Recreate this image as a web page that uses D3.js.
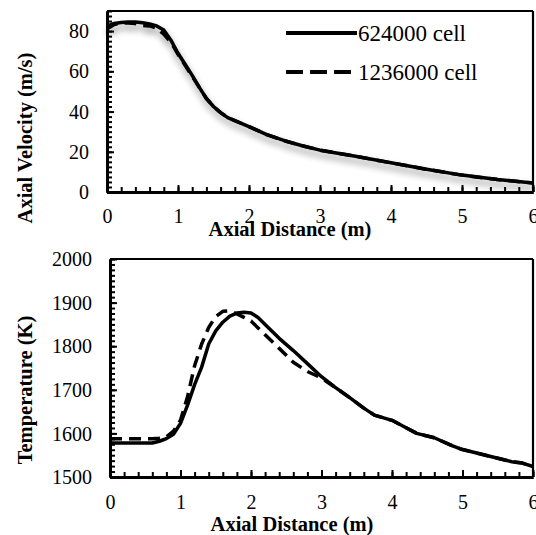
<!DOCTYPE html>
<html><head><meta charset="utf-8">
<script src="https://cdn.jsdelivr.net/npm/d3@7"></script>
<style>
html,body{margin:0;padding:0;background:#fff;}
svg{display:block;}
svg text{font-family:'Liberation Serif','Times New Roman',Tinos,'DejaVu Serif',serif !important;fill:#000;}
</style></head><body>
<svg id="c" width="536" height="535"></svg>
<script>
// ---------- data ----------
const seriesNames = ["624000 cell", "1236000 cell"];
const xTicks = [0, 1, 2, 3, 4, 5, 6];
const velTicks = [0, 20, 40, 60, 80];
const tempTicks = [1500, 1600, 1700, 1800, 1900, 2000];

const velX = [0,0.1,0.2,0.3,0.4,0.5,0.6,0.7,0.8,0.9,1.0,1.1,1.2,1.3,1.4,1.5,1.6,1.7,1.8,2.0,2.25,2.5,2.75,3.0,3.5,4.0,4.5,5.0,5.5,6.0];
const velSolid = [82.5,83.8,84.3,84.5,84.5,84.2,83.6,82.6,80.5,75.5,69,63.5,58,52,46.5,42.5,39.5,37,35.5,32.5,28.5,25.5,23,20.8,17.8,14.5,11.3,8.4,6.2,4.5];
const velDashed = [81,83.3,84,84,83.8,82.8,82.6,81.5,78.5,74.5,68.5,63,57.5,52,46.5,42.5,39.5,37,35.5,32.5,28.5,25.5,23,20.8,17.8,14.5,11.3,8.4,6.2,4.5];

const tempX = [0,0.2,0.4,0.6,0.7,0.8,0.9,1.0,1.1,1.2,1.3,1.4,1.5,1.6,1.7,1.8,1.9,2.0,2.1,2.2,2.4,2.6,2.8,3.0,3.2,3.4,3.6,3.75,4.0,4.2,4.35,4.6,4.85,5.0,5.2,5.5,5.7,5.85,6.0];
const tempSolid = [1578,1578,1578,1578,1582,1588,1598,1623,1665,1712,1752,1805,1835,1855,1869,1876,1878,1876,1866,1850,1818,1790,1760,1730,1705,1682,1658,1642,1630,1613,1600,1590,1572,1563,1555,1543,1535,1532,1524];
const tempDashed = [1588,1588,1588,1588,1589,1592,1605,1630,1684,1755,1805,1843,1868,1880,1881,1874,1866,1858,1842,1826,1795,1763,1742,1727,1705,1682,1658,1642,1630,1613,1600,1590,1572,1563,1555,1543,1535,1532,1524];

// ---------- drawing ----------
const FONT = "'Liberation Serif', 'Times New Roman', Tinos, 'DejaVu Serif', serif";
const svg = d3.select("#c");
const defs = svg.append("defs");
const f = defs.append("filter").attr("id","sh").attr("filterUnits","userSpaceOnUse")
  .attr("x",0).attr("y",0).attr("width",536).attr("height",535);
f.append("feGaussianBlur").attr("in","SourceAlpha").attr("stdDeviation",3.5).attr("result","b");
f.append("feOffset").attr("in","b").attr("dx",1).attr("dy",5).attr("result","o");
f.append("feComponentTransfer").attr("in","o").attr("result","t")
  .append("feFuncA").attr("type","linear").attr("slope",0.4);
const mg = f.append("feMerge");
mg.append("feMergeNode").attr("in","t");
mg.append("feMergeNode").attr("in","SourceGraphic");

function panel(cfg){
  const x = d3.scaleLinear().domain([0,6]).range([cfg.left, cfg.right]);
  const y = d3.scaleLinear().domain(cfg.yDomain).range([cfg.bottom, cfg.top]);
  const g = svg.append("g");

  g.append("line").attr("x1",cfg.left).attr("x2",cfg.right).attr("y1",cfg.top).attr("y2",cfg.top)
    .attr("stroke","#000").attr("stroke-width",2.2);
  g.append("line").attr("x1",cfg.right).attr("x2",cfg.right).attr("y1",cfg.top).attr("y2",cfg.bottom)
    .attr("stroke","#000").attr("stroke-width",2.2);

  const xm = g.append("g").attr("transform",`translate(0,${cfg.bottom})`)
    .call(d3.axisBottom(x).tickValues(d3.range(0,6.001,0.2)).tickSize(-5).tickSizeOuter(0).tickFormat(""));
  const xa = g.append("g").attr("transform",`translate(0,${cfg.bottom})`)
    .call(d3.axisBottom(x).tickValues(xTicks).tickSize(-7).tickSizeOuter(0).tickFormat(d3.format("d")));
  const ym = g.append("g").attr("transform",`translate(${cfg.left},0)`)
    .call(d3.axisLeft(y).tickValues(d3.range(cfg.yDomain[0], cfg.yDomain[1]+0.001, cfg.minor)).tickSize(-5).tickSizeOuter(0).tickFormat(""));
  const ya = g.append("g").attr("transform",`translate(${cfg.left},0)`)
    .call(d3.axisLeft(y).tickValues(cfg.yTicks).tickSize(-7).tickSizeOuter(0).tickFormat(d3.format("d")));

  [xm,xa,ym,ya].forEach(a=>{
    a.attr("font-family",FONT).attr("font-size",20);
    a.selectAll(".domain").attr("stroke","#000").attr("stroke-width",3);
    a.selectAll(".tick line").attr("stroke","#000").attr("stroke-width",2);
  });
  xa.selectAll(".tick text").attr("y", cfg.xLabelBase - cfg.bottom).attr("dy",0)
    .style("font-family",FONT).style("font-size","20px");
  ya.selectAll(".tick text").attr("x", cfg.yLabelRight - cfg.left).attr("dy","0.33em")
    .style("font-family",FONT).style("font-size","20px");

  svg.append("text").attr("x",cfg.xTitleX).attr("y",cfg.xTitleY).attr("text-anchor","middle")
    .style("font-family",FONT).style("font-weight","bold").style("font-size","20.5px").text("Axial Distance (m)");
  svg.append("text").attr("transform",`translate(${cfg.yTitleX},${cfg.yTitleY}) rotate(-90)`)
    .attr("text-anchor","middle").style("font-family",FONT).style("font-weight","bold").style("font-size","20.5px").text(cfg.yTitle);

  return {x,y,g};
}

function drawLines(p, xs, sSolid, sDashed, shadow){
  const line = d3.line().x((d,i)=>p.x(xs[i])).y(d=>p.y(d));
  const lg = svg.append("g");
  if (shadow) lg.attr("filter","url(#sh)");
  lg.append("path").attr("d", line(sDashed)).attr("fill","none").attr("stroke","#000")
    .attr("stroke-width",3.5).attr("stroke-dasharray","12,7").attr("stroke-linejoin","round");
  lg.append("path").attr("d", line(sSolid)).attr("fill","none").attr("stroke","#000")
    .attr("stroke-width",3.5).attr("stroke-linejoin","round");
}

const velPanel = panel({left:107,right:533,top:11,bottom:192,yDomain:[0,90],yTicks:velTicks,minor:2.5,
  xLabelBase:223,yLabelRight:89,xTitleX:290,xTitleY:236,yTitleX:32,yTitleY:138,yTitle:"Axial Velocity (m/s)"});
drawLines(velPanel, velX, velSolid, velDashed, true);

const tempPanel = panel({left:110,right:533,top:259,bottom:477,yDomain:[1500,2000],yTicks:tempTicks,minor:12.5,
  xLabelBase:509,yLabelRight:92,xTitleX:292,xTitleY:531,yTitleX:32,yTitleY:390,yTitle:"Temperature (K)"});
drawLines(tempPanel, tempX, tempSolid, tempDashed, false);

const leg = svg.append("g");
const legY = [33, 72];
const legDash = [null, "17,7"];
seriesNames.forEach((n,i)=>{
  const l = leg.append("line").attr("x1",286).attr("x2",357).attr("y1",legY[i]).attr("y2",legY[i])
    .attr("stroke","#000").attr("stroke-width",4);
  if (legDash[i]) l.attr("stroke-dasharray",legDash[i]);
  leg.append("text").attr("x",358).attr("y",legY[i]).attr("dy","0.33em")
    .style("font-family",FONT).style("font-size","23px").text(n);
});
</script>
</body></html>
